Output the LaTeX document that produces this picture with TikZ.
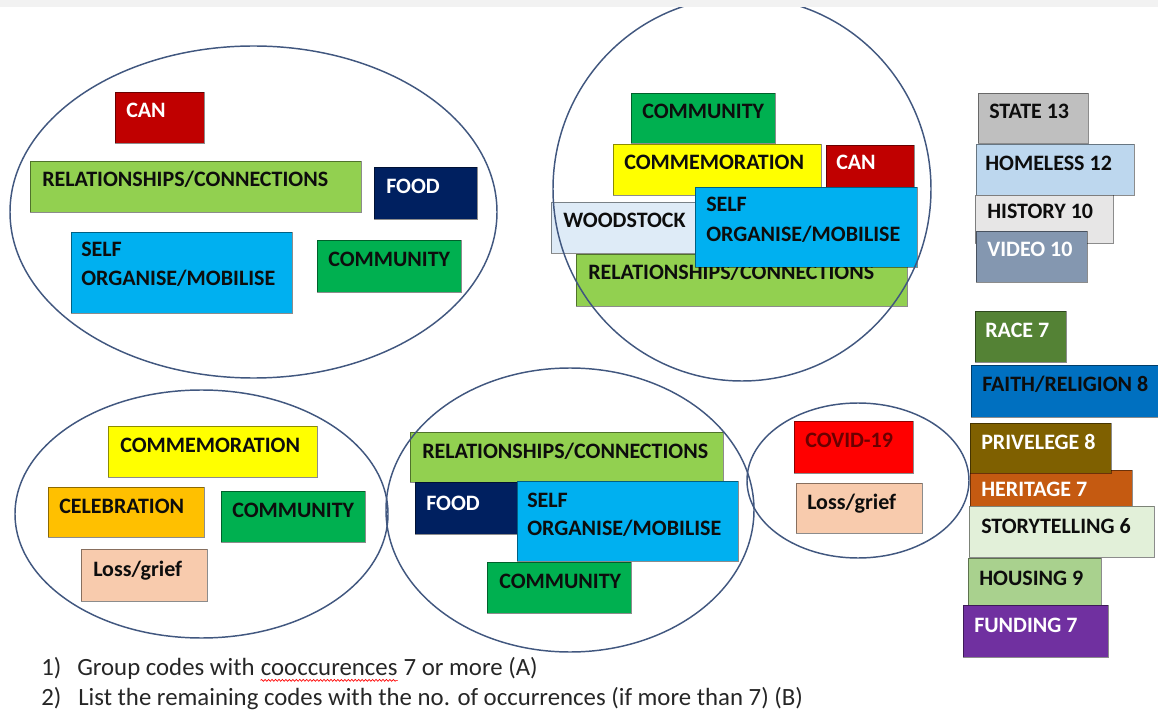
\documentclass[tikz,border=0pt]{standalone}
\usepackage{fontspec}
\setmainfont{Carlito}
\usepackage{tikz}
\usetikzlibrary{positioning, decorations.pathmorphing}
\definecolor{canred}{HTML}{C00000}
\definecolor{relgreen}{HTML}{92D050}
\definecolor{foodnavy}{HTML}{002060}
\definecolor{selfblue}{HTML}{00B0F0}
\definecolor{commgreen}{HTML}{00B050}
\definecolor{memyellow}{HTML}{FFFF00}
\definecolor{woodblue}{HTML}{DEEBF7}
\definecolor{stategray}{HTML}{BFBFBF}
\definecolor{homeblue}{HTML}{BDD7EE}
\definecolor{histgray}{HTML}{E7E6E6}
\definecolor{videoblue}{HTML}{8497B0}
\definecolor{racegreen}{HTML}{548235}
\definecolor{faithblue}{HTML}{0070C0}
\definecolor{privbrown}{HTML}{7F6000}
\definecolor{heritorange}{HTML}{C55A11}
\definecolor{storygreen}{HTML}{E2F0D9}
\definecolor{housegreen}{HTML}{A9D18E}
\definecolor{fundpurple}{HTML}{7030A0}
\definecolor{celebgold}{HTML}{FFC000}
\definecolor{losspeach}{HTML}{F8CBAD}
\definecolor{covidred}{HTML}{FF0000}
\definecolor{covidtext}{HTML}{6A0000}
\definecolor{ringblue}{HTML}{41577F}
\definecolor{txtdark}{HTML}{0D0D0D}
\newcommand\codefont{\fontsize{16.5}{20}\selectfont\bfseries}

\tikzset{
  code/.style={draw=black, draw opacity=0.45, line width=0.7pt},
  codetext/.style={anchor=base west, inner sep=0pt, font=\codefont, text=txtdark},
  whitetext/.style={codetext, text=white},
  group/.style={draw=ringblue, line width=1.1pt},
  note/.style={anchor=base west, inner sep=0pt, font=\fontsize{18.6}{22}\selectfont, text=black!85},
}

\begin{document}
\begin{tikzpicture}[x=0.75pt, y=-0.75pt]
  \useasboundingbox (0,0) rectangle (1158,713);

  % group A, top left
  \draw[code, fill=canred] (115,92) rectangle (204,143);
  \node[whitetext] (tlCan) at (126,118) {CAN};
  \draw[code, fill=relgreen] (30,161) rectangle (361,212);
  \node[codetext] (tlRel) at (42,187) {RELATIONSHIPS/CONNECTIONS};
  \draw[code, fill=foodnavy] (374,167) rectangle (477,219);
  \node[whitetext] (tlFood) at (386,194) {FOOD};
  \draw[code, fill=selfblue] (71,232) rectangle (292,313);
  \node[codetext] (tlSelfA) at (81,257) {SELF};
  \node[codetext] (tlSelfB) at (81,286) {ORGANISE/MOBILISE};
  \draw[code, fill=commgreen] (317,240) rectangle (461,292);
  \node[codetext] (tlComm) at (328,267) {COMMUNITY};

  % group A, top centre
  \draw[code, fill=commgreen] (631,93) rectangle (775,143);
  \node[codetext] (tcComm) at (642,119) {COMMUNITY};
  \draw[code, fill=memyellow] (613,144) rectangle (821,195);
  \node[codetext] (tcMem) at (624,170) {COMMEMORATION};
  \draw[code, fill=canred] (826,145) rectangle (914,196);
  \node[whitetext] (tcCan) at (836,170) {CAN};
  \draw[code, fill=relgreen] (576,254) rectangle (907,306);
  \node[codetext] (tcRel) at (588,280) {RELATIONSHIPS/CONNECTIONS};
  \draw[code, fill=woodblue] (551,202) rectangle (705,253);
  \node[codetext] (tcWood) at (563,228) {WOODSTOCK};
  \draw[code, fill=selfblue] (695,187) rectangle (917,267);
  \node[codetext] (tcSelfA) at (706,212) {SELF};
  \node[codetext] (tcSelfB) at (706,242) {ORGANISE/MOBILISE};

  % group B, right column
  \draw[code, fill=stategray] (978,93) rectangle (1088,143);
  \node[codetext] (state) at (989,119) {STATE 13};
  \draw[code, fill=homeblue] (976,144) rectangle (1134,195);
  \node[codetext] (homeless) at (985,171) {HOMELESS 12};
  \draw[code, fill=histgray] (975,195) rectangle (1113,243);
  \node[codetext] (history) at (987,219) {HISTORY 10};
  \draw[code, fill=videoblue] (976,231) rectangle (1087,282);
  \node[whitetext] (video) at (987,257) {VIDEO 10};
  \draw[code, fill=racegreen] (975,311) rectangle (1066,362);
  \node[whitetext] (race) at (985,338) {RACE 7};
  \draw[code, fill=faithblue] (971,365) rectangle (1165,417);
  \node[codetext] (faith) at (982,392) {FAITH/RELIGION 8};
  \draw[code, fill=heritorange] (970,470) rectangle (1132,520);
  \node[whitetext] (heritage) at (981,496) {HERITAGE 7};
  \draw[code, fill=privbrown] (970,423) rectangle (1111,473);
  \node[whitetext] (privelege) at (981,449) {PRIVELEGE 8};
  \draw[code, fill=storygreen] (969,506) rectangle (1154,557);
  \node[codetext] (story) at (981,533) {STORYTELLING 6};
  \draw[code, fill=housegreen] (968,558) rectangle (1101,609);
  \node[codetext] (housing) at (979,585) {HOUSING 9};
  \draw[code, fill=fundpurple] (963,605) rectangle (1108,657);
  \node[whitetext] (funding) at (974,632) {FUNDING 7};

  % group A, bottom left
  \draw[code, fill=memyellow] (108,426) rectangle (317,477);
  \node[codetext] (blMem) at (120,452) {COMMEMORATION};
  \draw[code, fill=celebgold] (48,487) rectangle (204,537);
  \node[codetext] (blCeleb) at (59,513) {CELEBRATION};
  \draw[code, fill=commgreen] (221,491) rectangle (365,542);
  \node[codetext] (blComm) at (232,517) {COMMUNITY};
  \draw[code, fill=losspeach] (81,549) rectangle (207,601);
  \node[codetext] (blLoss) at (93,576) {Loss/grief};

  % group A, bottom centre
  \draw[code, fill=relgreen] (410,432) rectangle (723,482);
  \node[codetext] (bcRel) at (422,458) {RELATIONSHIPS/CONNECTIONS};
  \draw[code, fill=foodnavy] (415,482) rectangle (517,534);
  \node[whitetext] (bcFood) at (426,510) {FOOD};
  \draw[code, fill=selfblue] (517,481) rectangle (738,561);
  \node[codetext] (bcSelfA) at (527,507) {SELF};
  \node[codetext] (bcSelfB) at (527,535) {ORGANISE/MOBILISE};
  \draw[code, fill=commgreen] (487,562) rectangle (631,613);
  \node[codetext] (bcComm) at (499,588) {COMMUNITY};

  % group A, small right
  \draw[code, fill=covidred] (794,421) rectangle (913,473);
  \node[codetext, text=covidtext] (brCovid) at (805,447) {COVID-19};
  \draw[code, fill=losspeach] (796,483) rectangle (922,533);
  \node[codetext] (brLoss) at (807,509) {Loss/grief};

  % rings
  \draw[group] (253.5,212) ellipse [x radius=243.5, y radius=166];
  \draw[group] (742,189) ellipse [x radius=189, y radius=192];
  \draw[group] (201.5,514) ellipse [x radius=186.5, y radius=124];
  \draw[group] (570,510) ellipse [x radius=184, y radius=142];
  \draw[group] (858,480.5) ellipse [x radius=111, y radius=77.5];
  \fill[black!5] (0,0) rectangle (1158,7);

  % notes
  \node[note] (noteOneNum) at (41,675) {1)};
  \node[note] (noteOneA) at (77,675) {Group codes with};
  \node[note, anchor=base west] (noteOneB) at ([xshift=4.2pt]noteOneA.base east) {cooccurences};
  \node[note, anchor=base west] (noteOneC) at ([xshift=4.2pt]noteOneB.base east) {7 or more (A)};
  \draw[red, line width=0.5pt, decorate, decoration={snake, amplitude=0.7pt, segment length=2.6pt}]
    ([yshift=-4pt]noteOneB.base west) -- ([yshift=-4pt]noteOneB.base east);
  \node[note] (noteTwoNum) at (41,705) {2)};
  \node[note] (noteTwo) at (78,705) {List the remaining codes with the no. of occurrences (if more than 7) (B)};
\end{tikzpicture}
\end{document}
